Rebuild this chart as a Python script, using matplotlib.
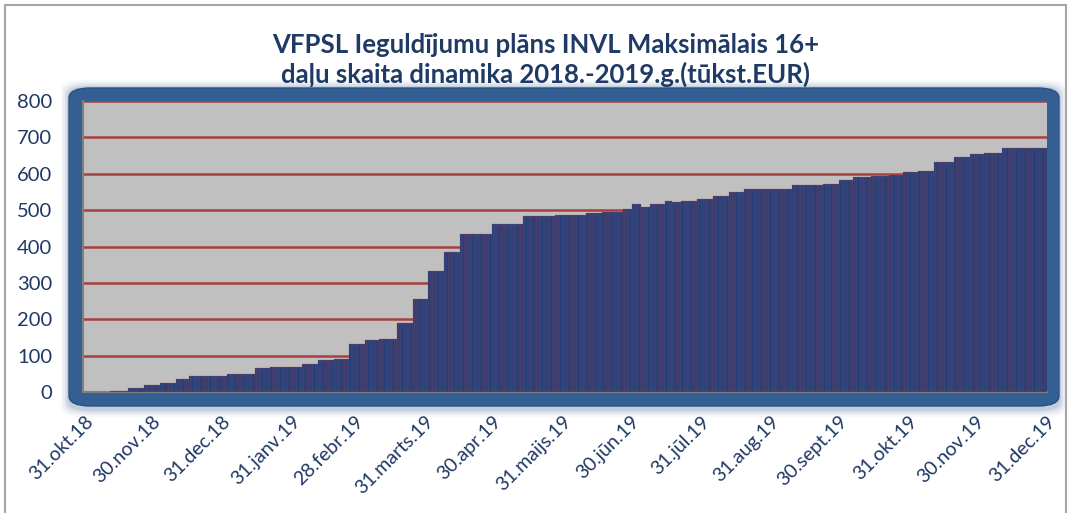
import numpy as np
import pandas as pd
import matplotlib
matplotlib.use('Agg')
import matplotlib.pyplot as plt
from matplotlib.patches import FancyBboxPatch, Rectangle

plt.rcParams['font.family'] = ['Lato', 'DejaVu Sans']

# step changes (date the level starts, value in tukst. EUR)
step_dates = ['2018-11-12', '2018-11-20', '2018-11-27', '2018-12-04', '2018-12-11',
              '2018-12-17', '2019-01-03', '2019-01-15', '2019-01-22', '2019-02-05',
              '2019-02-12', '2019-02-19', '2019-02-26', '2019-03-05', '2019-03-11',
              '2019-03-19', '2019-03-26', '2019-04-02', '2019-04-09', '2019-04-16',
              '2019-04-30', '2019-05-14', '2019-05-28', '2019-06-11', '2019-06-18',
              '2019-06-27', '2019-07-01', '2019-07-05', '2019-07-09', '2019-07-16',
              '2019-07-19', '2019-07-23', '2019-07-30', '2019-08-06', '2019-08-13',
              '2019-08-20', '2019-09-10', '2019-09-24', '2019-10-01', '2019-10-07',
              '2019-10-15', '2019-10-23', '2019-10-29', '2019-11-05', '2019-11-12',
              '2019-11-21', '2019-11-28', '2019-12-04', '2019-12-12']
step_values = [3, 10, 19, 26, 36,
               43, 50, 66, 70, 76,
               88, 92, 131, 144, 147,
               191, 255, 332, 386, 434,
               462, 484, 487, 493, 496,
               504, 518, 508, 517, 526,
               523, 525, 530, 538, 550,
               557, 570, 573, 583, 590,
               593, 596, 605, 608, 633,
               647, 653, 658, 670]

tick_dates = ['2018-10-31', '2018-11-30', '2018-12-31', '2019-01-31', '2019-02-28',
              '2019-03-31', '2019-04-30', '2019-05-31', '2019-06-30', '2019-07-31',
              '2019-08-31', '2019-09-30', '2019-10-31', '2019-11-30', '2019-12-31']
tick_labels = ['31.okt.18', '30.nov.18', '31.dec.18', '31.janv.19', '28.febr.19',
               '31.marts.19', '30.apr.19', '31.maijs.19', '30.jūn.19', '31.jūl.19',
               '31.aug.19', '30.sept.19', '31.okt.19', '30.nov.19', '31.dec.19']

title = 'VFPSL Ieguldījumu plāns INVL Maksimālais 16+\ndaļu skaita dinamika 2018.-2019.g.(tūkst.EUR)'

# daily series holding the level of each step
days = pd.date_range('2018-11-12', '2019-12-31', freq='D')
sd = pd.to_datetime(step_dates)
idx = np.searchsorted(sd.values, days.values, side='right') - 1
vals = np.array(step_values)[idx]

W, H = 1069, 513
fig = plt.figure(figsize=(W / 100, H / 100), dpi=100)

def fx(p):
    return p / W

def fy(p):
    return 1 - p / H

# outer chart border
fig.patches.append(Rectangle((fx(5), fy(520)), fx(1061), fy(5) - fy(520),
                             transform=fig.transFigure, fill=False,
                             edgecolor='#a6a6a6', lw=1.5))

# blurred blue frame round the plot area
x0, x1, y0, y1 = 69, 1059, 88, 406
for k, a in [(8, 0.04), (6, 0.06), (4, 0.09), (2, 0.13)]:
    fig.patches.append(FancyBboxPatch((fx(x0 - k), fy(y1 + k + 3)),
                                      fx(x1 - x0 + 2 * k), fy(y0 - k) - fy(y1 + k + 3),
                                      boxstyle='round,pad=0,rounding_size=0.02',
                                      transform=fig.transFigure, facecolor='#2f5c8f',
                                      edgecolor='none', alpha=a, zorder=0))
fig.patches.append(FancyBboxPatch((fx(x0), fy(y1)), fx(x1 - x0), fy(y0) - fy(y1),
                                  boxstyle='round,pad=0,rounding_size=0.02',
                                  transform=fig.transFigure, facecolor='#335f93',
                                  edgecolor='#2b5182', lw=1, zorder=1))

ax = fig.add_axes([fx(83), fy(392), fx(1047 - 83), fy(101) - fy(392)])
ax.set_zorder(2)
ax.set_facecolor('#c0c0c0')

ax.bar(days, vals, width=1.0, color='#213f7a', edgecolor='#b0485a', linewidth=0.18, zorder=3)

ax.set_ylim(0, 800)
ax.set_yticks(np.arange(0, 801, 100))
ax.grid(axis='y', color='#a8403e', lw=1.8, zorder=1)
ax.set_axisbelow(True)

t = pd.to_datetime(tick_dates)
ax.set_xlim(t[0] - pd.Timedelta(hours=12), t[-1] + pd.Timedelta(hours=12))
ax.set_xticks(t)
ax.set_xticklabels(tick_labels, rotation=45, ha='right', rotation_mode='anchor')

ax.tick_params(axis='x', length=0, pad=15, labelsize=14, labelcolor='#1f3864')
ax.tick_params(axis='y', length=0, pad=22, labelsize=14.5, labelcolor='#1f3864')

for s in ['top', 'right']:
    ax.spines[s].set_visible(False)
for s in ['left', 'bottom']:
    ax.spines[s].set_color('#7f7f7f')
    ax.spines[s].set_linewidth(1.5)

fig.text(fx(546), fy(60), title, ha='center', va='center', fontsize=18.5,
         fontweight='bold', color='#1f3a64', linespacing=1.25)

fig.savefig('out.png', dpi=100)
